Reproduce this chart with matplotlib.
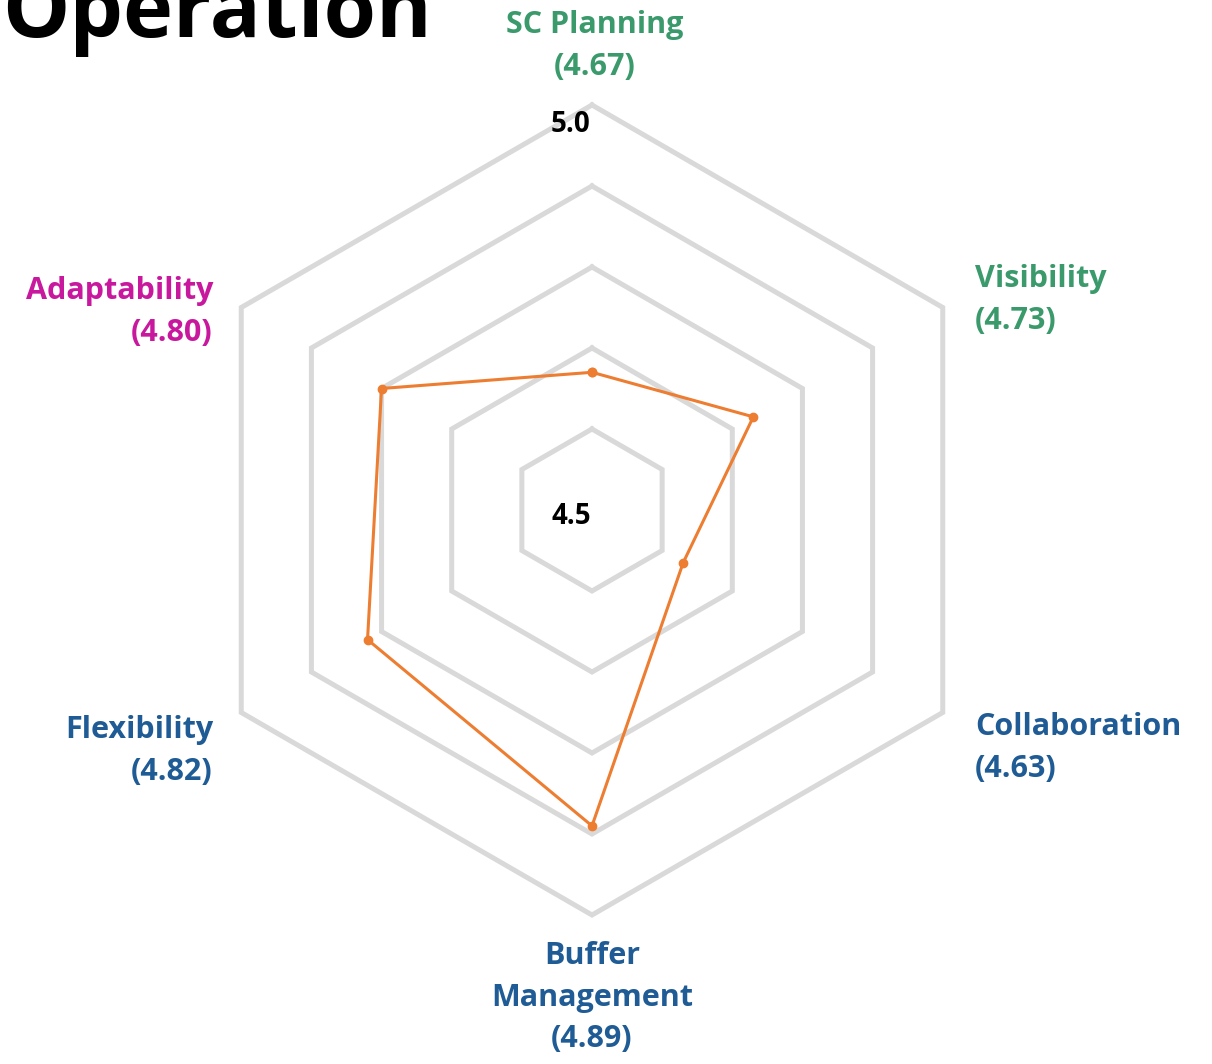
"""Radar chart of operation resilience scores."""
import matplotlib

matplotlib.use("Agg")
import matplotlib.pyplot as plt
import numpy as np

categories = ["SC Planning", "Visibility", "Collaboration",
              "Buffer Management", "Flexibility", "Adaptability"]
scores = [4.67, 4.73, 4.63, 4.89, 4.82, 4.80]
ring_levels = [4.6, 4.7, 4.8, 4.9, 5.0]
r_min, r_max = 4.5, 5.0
title = "Operation"

GREEN = "#3a9a6b"
BLUE = "#1f5b94"
MAGENTA = "#c8199e"
ORANGE = "#ed7d31"
RING = "#d9d9d9"

W, H = 1212, 1064
fig = plt.figure(figsize=(W / 100, H / 100), dpi=100)

# polar axes: centre at (592, 510) px, radius 405 px
cx, cy, R = 592, 510, 405
ax = fig.add_axes([(cx - R) / W, (H - cy - R) / H, 2 * R / W, 2 * R / H],
                  projection="polar")
ax.set_theta_offset(np.pi / 2)
ax.set_theta_direction(-1)
ax.set_ylim(r_min, r_max)
ax.set_axis_off()

angles = np.linspace(0, 2 * np.pi, len(categories), endpoint=False)
closed = np.append(angles, angles[0])

for lvl in ring_levels:
    ax.plot(closed, [lvl] * len(closed), color=RING, lw=3.6, zorder=1,
            solid_joinstyle="miter", clip_on=False)

vals = scores + scores[:1]
ax.plot(closed, vals, color=ORANGE, lw=2.2, marker="o", ms=6, zorder=3,
        clip_on=False)

# range labels
num_font = dict(fontsize=20, fontweight="bold", family="Open Sans",
                ha="center", va="center")
fig.text(571 / W, 1 - 125 / H, f"{r_max:.1f}", **num_font)
fig.text(571 / W, 1 - 517 / H, f"{r_min:.1f}", **num_font)

label_font = dict(fontsize=22, fontweight="bold", family="Open Sans",
                  linespacing=1.5)
label_specs = [
    (595, 46, "center", GREEN),
    (975, 300, "left", GREEN),
    (975, 748, "left", BLUE),
    (592, 998, "center", BLUE),
    (213, 751, "right", BLUE),
    (213, 312, "right", MAGENTA),
]
for cat, val, (x, y, ha, col) in zip(categories, scores, label_specs):
    name = cat.replace(" ", "\n") if cat == "Buffer Management" else cat
    fig.text(x / W, 1 - y / H, f"{name}\n({val:.2f})", color=col, ha=ha,
             va="center", multialignment=ha, **label_font)

fig.text(2 / W, 1 - 37 / H, title, fontsize=61, fontweight="bold",
         family="Open Sans", ha="left", va="baseline")

fig.savefig("out.png", dpi=100)
